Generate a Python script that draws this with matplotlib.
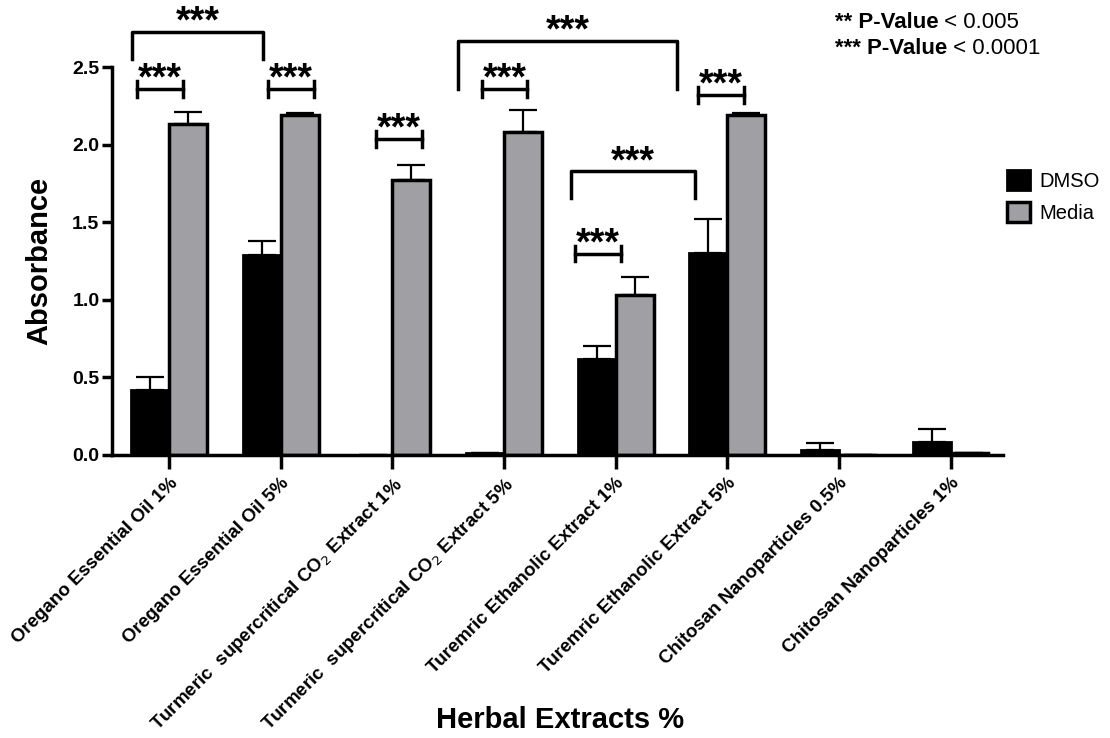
import matplotlib
matplotlib.use("Agg")
import matplotlib.pyplot as plt
import numpy as np

plt.rcParams['font.family'] = ['Liberation Sans', 'DejaVu Sans']

categories = ["Oregano Essential Oil 1%", "Oregano Essential Oil 5%",
              "Turmeric  supercritical CO$_2$ Extract 1%",
              "Turmeric  supercritical CO$_2$ Extract 5%",
              "Turemric Ethanolic Extract 1%", "Turemric Ethanolic Extract 5%",
              "Chitosan Nanoparticles 0.5%", "Chitosan Nanoparticles 1%"]
dmso = [0.42, 1.29, 0.0, 0.01, 0.62, 1.30, 0.035, 0.085]
dmso_err = [0.085, 0.09, 0.0, 0.0, 0.08, 0.22, 0.045, 0.08]
media = [2.13, 2.19, 1.77, 2.08, 1.03, 2.19, 0.0, 0.012]
media_err = [0.08, 0.012, 0.10, 0.14, 0.12, 0.012, 0.0, 0.0]

# within-group brackets: (x0, x1, y)
short_brackets = [(-0.286, 0.125, 2.358), (0.884, 1.295, 2.358),
                  (1.857, 2.268, 2.035), (2.804, 3.205, 2.358),
                  (3.634, 4.045, 1.298), (4.741, 5.152, 2.319)]
# between-group brackets: (x0, x1, top, bottom)
long_brackets = [(-0.33, 0.84, 2.726, 2.552), (2.589, 4.554, 2.668, 2.358),
                 (3.598, 4.714, 1.828, 1.654)]

x = np.arange(len(categories))
w = 0.34

fig = plt.figure(figsize=(11.1, 7.38), dpi=100)
ax = fig.add_axes([0.1009, 0.3835, 0.8027, 0.5257])

ax.bar(x - w / 2, dmso, w, color='black', edgecolor='black', linewidth=2,
       label='DMSO', zorder=2)
ax.bar(x + w / 2, media, w, color='#a0a0a4', edgecolor='black', linewidth=2.5,
       label='Media', zorder=2)
ax.errorbar(x - w / 2, dmso, yerr=[np.zeros(len(x)), dmso_err], fmt='none',
            ecolor='black', elinewidth=1.6, capsize=10, capthick=1.6, zorder=3)
ax.errorbar(x + w / 2, media, yerr=[np.zeros(len(x)), media_err], fmt='none',
            ecolor='black', elinewidth=1.6, capsize=10, capthick=1.6, zorder=3)

star_kw = dict(ha='center', va='baseline', fontsize=27, fontweight='bold')
for xa, xb, y in short_brackets:
    ax.plot([xa, xb], [y, y], color='black', lw=2.5, clip_on=False)
    ax.plot([xa, xa], [y - 0.05, y + 0.05], color='black', lw=2.5, clip_on=False)
    ax.plot([xb, xb], [y - 0.05, y + 0.05], color='black', lw=2.5, clip_on=False)
    ax.text((xa + xb) / 2, y - 0.005, '***', clip_on=False, **star_kw)

for a, b, top, bot in long_brackets:
    ax.plot([a, a, b, b], [bot, top, top, bot], color='black', lw=2.5,
            clip_on=False)
    ax.text((a + b) / 2, top - 0.005, '***', clip_on=False, **star_kw)

ax.set_xlim(-0.51, 7.47)
ax.set_ylim(0, 2.5)
ax.set_yticks([0, 0.5, 1.0, 1.5, 2.0, 2.5])
ax.set_yticklabels(['0.0', '0.5', '1.0', '1.5', '2.0', '2.5'],
                   fontsize=14, fontweight='bold')
ax.set_xticks(x)
ax.set_xticklabels(categories, rotation=45, ha='right', rotation_mode='anchor',
                   fontsize=13.5, fontweight='bold')

for s in ['top', 'right']:
    ax.spines[s].set_visible(False)
for s in ['left', 'bottom']:
    ax.spines[s].set_linewidth(2.5)
ax.tick_params(axis='x', length=10, width=2.5, pad=4)
ax.tick_params(axis='y', length=7, width=2.5, pad=2)

ax.set_ylabel('Absorbance', fontsize=21, fontweight='bold', labelpad=14)
fig.text(0.505, 0.006, 'Herbal Extracts %', ha='center', va='bottom',
         fontsize=21, fontweight='bold')

ax.legend(loc='center left', bbox_to_anchor=(1.0, 0.666), frameon=False,
          fontsize=14.5, handlelength=1.15, handleheight=1.15, handletextpad=0.45,
          labelspacing=0.55, borderaxespad=0.0, borderpad=0.2)

t1 = fig.text(0.752, 0.962, '** P-Value', fontsize=16, fontweight='bold',
              va='baseline')
ax.annotate(' < 0.005', xy=(1, 0), xycoords=t1, fontsize=16,
            va='bottom', ha='left')
t2 = fig.text(0.752, 0.927, '*** P-Value', fontsize=16, fontweight='bold',
              va='baseline')
ax.annotate(' < 0.0001', xy=(1, 0), xycoords=t2, fontsize=16,
            va='bottom', ha='left')

fig.savefig('out.png', dpi=100)
